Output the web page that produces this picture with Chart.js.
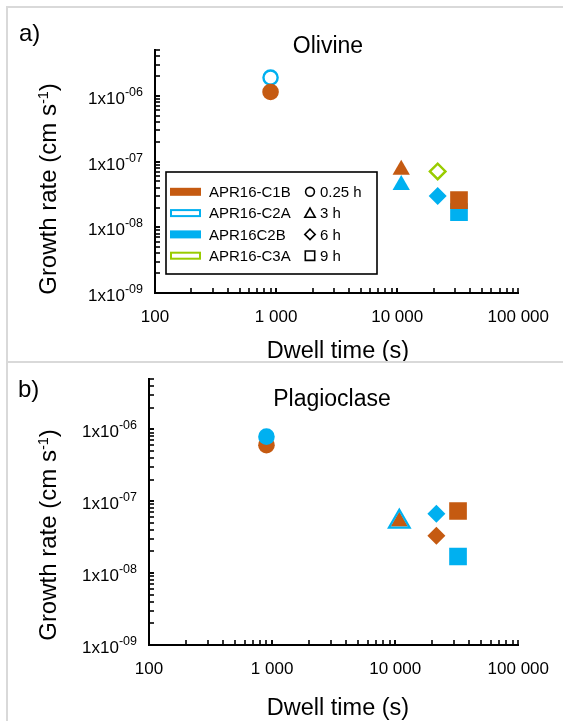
<!DOCTYPE html>
<html><head><meta charset="utf-8">
<script src="https://cdn.jsdelivr.net/npm/chart.js@4.4.1/dist/chart.umd.min.js"></script>
<style>
html,body{margin:0;padding:0;background:#fff;}
body{width:563px;height:721px;position:relative;overflow:hidden;font-family:"Liberation Sans",Arial,sans-serif;}
canvas{position:absolute;left:0;}
#c1{top:0;} #c2{top:361px;}
.fr{position:absolute;background:#d9d9d9;}
</style></head>
<body>
<canvas id="c1" width="563" height="361"></canvas>
<canvas id="c2" width="563" height="360"></canvas>
<div class="fr" style="left:6px;top:6px;width:2px;height:715px"></div>
<div class="fr" style="left:6px;top:6px;width:557px;height:2px"></div>
<div class="fr" style="left:6px;top:361px;width:557px;height:2px"></div>
<script>
// ---- data ----
const dwellTimes = [900, 10800, 21600, 32400];          // s
const dwellLabels = ['0.25 h', '3 h', '6 h', '9 h'];
const seriesNames = ['APR16-C1B', 'APR16-C2A', 'APR16C2B', 'APR16-C3A'];
const xTickValues = [100, 1000, 10000, 100000];
const xTickLabels = ['100', '1 000', '10 000', '100 000'];
const yTickValues = [1e-9, 1e-8, 1e-7, 1e-6];
const yTickExponents = ['-09', '-08', '-07', '-06'];
// Olivine growth rates (cm/s), by dwell time
const olivineC1B = [1.15e-6, 7.5e-8, null, 2.6e-8];
const olivineC2A = [1.9e-6, null, null, null];
const olivineC2B = [null, 4.4e-8, 3.0e-8, 1.7e-8];
const olivineC3A = [null, null, 7.1e-8, null];
// Plagioclase growth rates (cm/s)
const plagC1B = [6.0e-7, 5.2e-8, 3.3e-8, 7.3e-8];
const plagC2A = [null, 5.2e-8, null, null];
const plagC2B = [7.9e-7, null, 6.7e-8, 1.7e-8];
const plagC3A = [null, null, null, null];

// ---- styles ----
const FONT = '"Liberation Sans", Arial, sans-serif';
const ORANGE = '#C55A11', BLUE = '#00B0F0', GREEN = '#99CC00';
const seriesColors = [ORANGE, BLUE, BLUE, GREEN];
const seriesOpen = [false, true, false, true];
const shapeByDwell = ['circle', 'triangle', 'rectRot', 'rect'];
const radiusByShape = {circle: 8.3, triangle: 10, rectRot: 9, rect: 12.5};

function makeDataset(si, values, order, opts) {
  const open = seriesOpen[si];
  const o = opts || {};
  return {
    label: seriesNames[si],
    data: values.map((v, i) => ({x: dwellTimes[i], y: v})),
    order: order,
    showLine: false,
    pointStyle: ctx => shapeByDwell[ctx.dataIndex],
    pointRadius: ctx => {
      const s = shapeByDwell[ctx.dataIndex];
      let r = radiusByShape[s];
      if (open) r -= 1.2;
      if (o.scale) r *= o.scale;
      return r;
    },
    backgroundColor: open ? 'rgba(0,0,0,0)' : seriesColors[si],
    borderColor: seriesColors[si],
    borderWidth: open ? (o.bw || 2.4) : 0
  };
}

function drawShape(ctx, shape, cx, cy) {
  ctx.beginPath();
  if (shape === 'circle') ctx.arc(cx, cy, 4.4, 0, Math.PI * 2);
  else if (shape === 'triangle') { ctx.moveTo(cx, cy - 5); ctx.lineTo(cx + 5.2, cy + 4.2); ctx.lineTo(cx - 5.2, cy + 4.2); ctx.closePath(); }
  else if (shape === 'rectRot') { ctx.moveTo(cx, cy - 5.2); ctx.lineTo(cx + 5.2, cy); ctx.lineTo(cx, cy + 5.2); ctx.lineTo(cx - 5.2, cy); ctx.closePath(); }
  else ctx.rect(cx - 4.7, cy - 4.7, 9.4, 9.4);
  ctx.stroke();
}

function makeDecor(cfg) {
  return {
    id: 'decor',
    afterDraw(chart) {
      const ctx = chart.ctx, xs = chart.scales.x, ys = chart.scales.y, ca = chart.chartArea;
      ctx.save();
      // inner minor ticks
      ctx.strokeStyle = '#000'; ctx.lineWidth = 1.6;
      for (let d = 100; d < 100000; d *= 10) {
        for (let m = 1; m <= 10; m++) {
          const px = Math.round(xs.getPixelForValue(m * d));
          ctx.beginPath(); ctx.moveTo(px, ca.bottom); ctx.lineTo(px, ca.bottom - 5); ctx.stroke();
        }
      }
      for (let e = -9; e <= -6; e++) {
        for (let m = 1; m <= 10; m++) {
          const v = m * Math.pow(10, e);
          if (v > 5.0001e-6) continue;
          const py = Math.round(ys.getPixelForValue(v));
          ctx.beginPath(); ctx.moveTo(ca.left, py); ctx.lineTo(ca.left + 5, py); ctx.stroke();
        }
      }
      // y tick labels with superscript
      ctx.fillStyle = '#000';
      ctx.textBaseline = 'alphabetic'; ctx.textAlign = 'left';
      yTickValues.forEach((v, i) => {
        const py = ys.getPixelForValue(v);
        const right = ca.left - 12;
        ctx.font = '12.5px ' + FONT;
        const sw = ctx.measureText(yTickExponents[i]).width;
        ctx.font = '17px ' + FONT;
        const mw = ctx.measureText('1x10').width;
        ctx.fillText('1x10', right - sw - mw, py + 8);
        ctx.font = '12.5px ' + FONT;
        ctx.fillText(yTickExponents[i], right - sw, py);
      });
      // panel letter
      ctx.font = '24px ' + FONT;
      ctx.fillText(cfg.letter, cfg.letterX, cfg.letterY);
      // chart title
      ctx.font = '23px ' + FONT; ctx.textAlign = 'center';
      ctx.fillText(cfg.title, cfg.titleX, cfg.titleY);
      // x axis title
      ctx.font = '23.5px ' + FONT;
      ctx.fillText('Dwell time (s)', cfg.xTitleX, cfg.xTitleY);
      // y axis title (rotated, with superscript)
      ctx.save();
      ctx.translate(cfg.yTitleX, cfg.yTitleY);
      ctx.rotate(-Math.PI / 2);
      ctx.textAlign = 'left';
      const big = '24px ' + FONT, small = '14.5px ' + FONT;
      ctx.font = big;
      const p1 = 'Growth rate (cm s', p3 = ')';
      const w1 = ctx.measureText(p1).width, w3 = ctx.measureText(p3).width;
      ctx.font = small;
      const w2 = ctx.measureText('-1').width;
      let x0 = -(w1 + w2 + w3) / 2;
      ctx.font = big;
      ctx.fillText(p1, x0, 0);
      ctx.font = small;
      ctx.fillText('-1', x0 + w1, -8.5);
      ctx.font = big;
      ctx.fillText(p3, x0 + w1 + w2, 0);
      ctx.restore();
      // legend
      if (cfg.legend) {
        const L = 166, T = 172, R = 377, B = 274;
        ctx.fillStyle = '#fff'; ctx.fillRect(L, T, R - L, B - T);
        ctx.lineWidth = 1.6; ctx.strokeStyle = '#000';
        ctx.strokeRect(L, T, R - L, B - T);
        ctx.textAlign = 'left'; ctx.textBaseline = 'middle';
        for (let i = 0; i < 4; i++) {
          const cy = 191.8 + i * 21.3;
          if (seriesOpen[i]) {
            ctx.fillStyle = '#fff'; ctx.fillRect(170, cy - 4, 31, 8);
            ctx.strokeStyle = seriesColors[i]; ctx.lineWidth = 2;
            ctx.strokeRect(171, cy - 3, 29, 6);
          } else {
            ctx.fillStyle = seriesColors[i]; ctx.fillRect(170, cy - 4, 31, 8);
          }
          ctx.fillStyle = '#000';
          ctx.font = '15px ' + FONT;
          ctx.fillText(seriesNames[i], 209, cy + 1);
          ctx.strokeStyle = '#000'; ctx.lineWidth = 1.6;
          drawShape(ctx, shapeByDwell[i], 310, cy);
          ctx.fillText(dwellLabels[i], 320, cy + 1);
        }
      }
      ctx.restore();
    }
  };
}

function makeChart(id, datasets, cfg) {
  return new Chart(document.getElementById(id), {
    type: 'scatter',
    data: {datasets},
    options: {
      responsive: false, animation: false, events: [],
      layout: {padding: {left: 0, right: 43, top: cfg.padTop, bottom: 0}},
      plugins: {legend: {display: false}, tooltip: {enabled: false}, title: {display: false}},
      scales: {
        x: {
          type: 'logarithmic', min: 100, max: 100000,
          grid: {display: false, drawTicks: false},
          border: {display: true, color: '#000', width: 2},
          afterBuildTicks: s => { s.ticks = xTickValues.map(v => ({value: v})); },
          afterFit: s => { s.height = cfg.xHeight; },
          ticks: {autoSkip: false, maxRotation: 0, padding: 14, color: '#000',
                  font: {family: FONT, size: 17}, callback: (v, i) => xTickLabels[i]}
        },
        y: {
          type: 'logarithmic', min: 1e-9, max: 5e-6,
          grid: {display: false, drawTicks: false},
          border: {display: true, color: '#000', width: 2},
          afterBuildTicks: s => { s.ticks = yTickValues.map(v => ({value: v})); },
          afterFit: s => { s.width = cfg.yWidth; },
          ticks: {display: false}
        }
      }
    },
    plugins: [makeDecor(cfg)]
  });
}

makeChart('c1', [
  makeDataset(0, olivineC1B, 0),
  makeDataset(1, olivineC2A, 1),
  makeDataset(2, olivineC2B, 2),
  makeDataset(3, olivineC3A, 3)
], {padTop: 50, xHeight: 68, yWidth: 155, legend: true,
    letter: 'a)', letterX: 19, letterY: 41, title: 'Olivine', titleX: 328, titleY: 53,
    xTitleX: 338, xTitleY: 358, yTitleX: 56, yTitleY: 189});

makeChart('c2', [
  makeDataset(1, plagC2A, 0, {bw: 2.3, scale: 1.35}),
  makeDataset(2, plagC2B, 1),
  makeDataset(0, plagC1B, 2),
  makeDataset(3, plagC3A, 3)
], {padTop: 18, xHeight: 76, yWidth: 149, legend: false,
    letter: 'b)', letterX: 18, letterY: 36, title: 'Plagioclase', titleX: 332, titleY: 45,
    xTitleX: 338, xTitleY: 354, yTitleX: 56, yTitleY: 174});
</script>
</body></html>
